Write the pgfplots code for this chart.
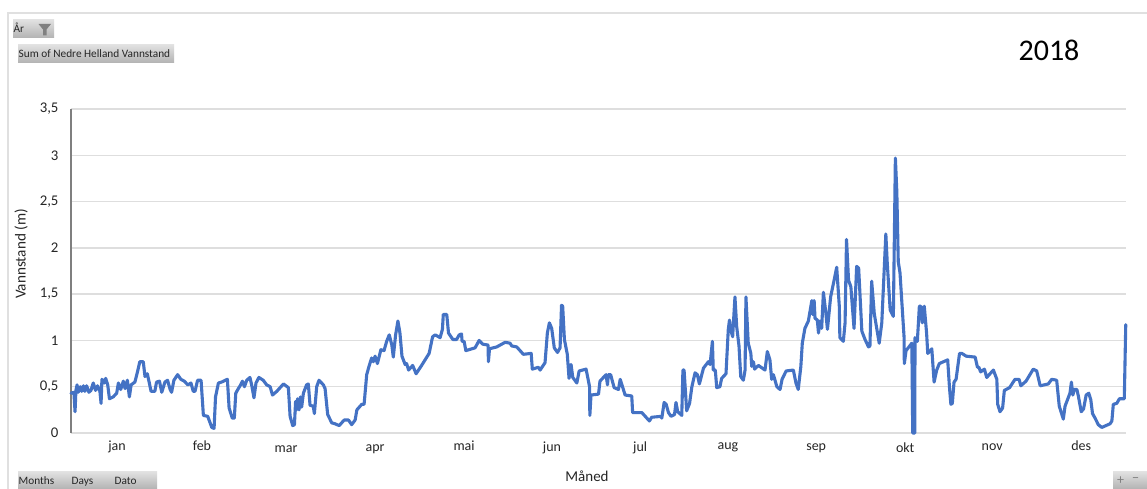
\documentclass[border=0pt]{standalone}
\usepackage{fontspec}
\setmainfont{Carlito}
\usepackage{pgfplots}
\pgfplotsset{compat=1.18}
\definecolor{serie}{HTML}{4472C4}
\definecolor{rutenett}{HTML}{DEDEDE}
\definecolor{akse}{HTML}{7F7F7F}
\newcommand{\knapp}[4]{% x0, y0 from the top, x1, y1 from the top
  \path[top color=black!12,bottom color=black!30] (#1pt,489pt-#2pt) rectangle (#3pt,489pt-#4pt);}
\newcommand{\knapptekst}[3]{\node[anchor=base west,inner sep=0pt,font=\fontsize{11.3}{12}\selectfont,text=black!85] at (#1,#2) {#3};}
\begin{document}
\begin{tikzpicture}[x=1pt,y=1pt]
\path[use as bounding box,fill=white] (0,0) rectangle (1147,489);
% outer frame of the chart area
\draw[black!12,line width=1.2pt] (8,0) -- (8,476) -- (1147,476);
\begin{axis}[
  at={(71pt,56pt)},anchor=south west,
  scale only axis,width=1055pt,height=324pt,
  xmin=0,xmax=365,ymin=0,ymax=3.5,
  clip=false,
  axis line style={draw=none},
  axis lines*=left,
  ymajorgrids,
  grid style={rutenett,line width=1.3pt},
  xtick={15.9,45.3,74.4,105.2,136,166.4,196.9,227.3,257.8,288.6,318.7,349.5},
  xticklabels={jan,feb,\smash{\raisebox{-2pt}{mar}},\smash{\raisebox{-1pt}{apr}},mai,\smash{\raisebox{-1pt}{jun}},\smash{\raisebox{-1pt}{jul}},\smash{\raisebox{1pt}{aug}},sep,\smash{\raisebox{-2pt}{okt}},nov,des},
  ytick={0,0.5,1,1.5,2,2.5,3,3.5},
  yticklabels={0,{0,5},1,{1,5},2,{2,5},3,{3,5}},
  major tick length=0pt,
  yticklabel style={xshift=-9pt,font=\fontsize{14.8}{16}\selectfont,text=black!85},
  xticklabel style={yshift=-4pt,font=\fontsize{14}{16}\selectfont,text=black!85,text height=10pt,text depth=3pt},
]
% vertical axis line
\draw[akse,line width=1.5pt] (axis cs:0,0) -- (axis cs:0,3.5);
\addplot[serie,line width=3.1pt,line join=round,line cap=round,no marks] table {
0 .43
1 .44
1.4 .23
1.7 .46
2.1 .52
2.5 .44
3.2 .50
3.7 .45
4.3 .51
4.8 .45
5.4 .51
6.2 .44
6.9 .46
7.7 .54
8.5 .46
9.2 .51
10 .45
10.4 .32
10.7 .58
11.5 .54
12 .59
12.7 .52
13.3 .37
14.6 .39
15.8 .43
16.4 .54
17.2 .47
18.1 .56
18.7 .48
19.5 .57
20.2 .39
20.8 .52
22.1 .55
23 .66
23.8 .77
25 .77
25.6 .61
26.4 .64
27.1 .54
27.7 .45
29 .45
29.6 .55
30.6 .56
31.4 .44
32.5 .55
33.4 .57
34.3 .47
34.8 .44
35.6 .57
36.9 .63
38 .58
39.2 .56
40.4 .52
41.5 .54
42.3 .45
42.9 .45
43.8 .57
45 .57
45.8 .19
47.3 .18
48.7 .06
49.5 .05
50 .39
51 .54
52.1 .55
54.1 .58
54.7 .27
55.8 .16
56.5 .16
57 .43
57.9 .48
58.5 .51
59.3 .56
60 .50
60.8 .57
61.9 .60
62.5 .52
63.3 .38
64 .54
65 .60
66.5 .57
67.7 .52
68.9 .50
69.7 .41
71.2 .45
73.5 .53
75.2 .49
75.8 .18
76.7 .08
77.3 .09
77.7 .34
78.1 .25
78.4 .37
78.9 .25
79.4 .39
79.8 .28
80.4 .43
81.5 .52
82.1 .53
82.7 .30
83.8 .29
84.2 .21
85 .50
85.8 .57
87.3 .52
87.9 .48
88.8 .20
90.2 .11
91.3 .10
92.8 .08
94.5 .14
96 .14
97.1 .09
98.3 .14
98.9 .25
100.6 .31
101.4 .31
102.3 .63
103.1 .72
104 .81
104.6 .77
105.2 .83
106 .75
107.2 .90
108.3 .89
109.2 .99
110.1 1.06
111 .95
111.5 .82
112.3 1.06
113.1 1.21
113.8 1.08
114.5 .83
115.6 .74
116.1 .75
116.8 .68
118.2 .73
119.4 .64
121.3 .73
123.1 .82
123.9 .86
125.1 1.04
126 1.06
127.7 1.03
128.5 1.12
128.8 1.28
130 1.28
130.6 1.08
132.1 1.01
133.4 1.01
134.3 1.06
135.1 1.07
135.3 .99
136 .99
136.6 .89
139.8 .92
141.2 1.0
142.4 .96
144.3 .95
144.4 .77
144.8 .91
147.3 .93
150.2 .98
151.9 .97
152.5 .94
154.2 .93
156.5 .85
159.2 .86
159.6 .69
161.7 .71
162.3 .68
164 .76
164.8 1.08
165.5 1.19
166.3 1.13
167.2 .92
168.3 .87
169.2 .92
169.7 1.38
170.1 1.37
170.7 1.01
171.7 .85
172.3 .59
173 .74
173.6 .60
175 .54
175.8 .67
178.2 .69
179.4 .50
179.5 .19
179.9 .41
182.5 .42
183 .56
185.1 .63
185.6 .52
185.9 .63
186.7 .63
187.9 .49
189.4 .47
190 .58
191.7 .41
194 .40
194.3 .22
197.5 .22
200.1 .13
200.9 .17
204.2 .18
204.4 .16
205.2 .33
205.9 .31
206.7 .22
207.6 .18
208.8 .20
209.3 .33
209.9 .23
211.3 .19
211.7 .68
212.1 .68
213 .24
214 .32
214.8 .50
215.9 .65
216.7 .63
217.4 .53
218.8 .70
220.5 .77
221.1 .74
221.9 .99
222.2 .68
222.9 .68
223.4 .49
224.5 .50
225.1 .59
226.6 .64
227.4 1.12
227.8 1.22
228.2 1.12
228.9 1.04
229.7 1.47
230.3 1.15
231.1 .94
231.7 .61
232.6 .57
233.2 .68
233.5 1.47
234.3 .97
235.2 .86
235.5 .72
236.1 .77
236.5 .69
237.8 .73
240.1 .68
240.9 .88
241.8 .79
242.4 .58
243 .63
244.2 .50
245.3 .47
246 .58
247.4 .67
249.9 .68
250.8 .54
251.6 .47
252.5 .72
253 .97
253.9 1.13
255.1 1.21
256.3 1.43
256.6 1.28
257.1 1.43
257.4 1.24
258.2 1.22
258.6 1.08
259.1 1.21
259.7 1.13
260.3 1.52
261.1 1.31
261.7 1.12
262.8 1.47
264 1.65
264.9 1.79
265.8 1.37
266 1.03
267.2 .99
267.8 1.19
268.3 2.09
269 1.65
269.8 1.58
270.9 1.13
271.8 1.80
272.5 1.78
273.6 1.10
274.7 1.01
275.9 .93
276.4 .94
277 1.64
277.9 1.29
279.6 .97
280.5 1.19
281.9 2.15
282.4 1.83
283.4 1.33
284.5 1.26
285.2 2.97
285.7 2.61
286.2 1.85
286.8 1.73
288.2 1.04
288.3 .75
288.9 .89
290.9 .97
291.2 0
291.9 0
292 1.03
292.8 .99
293.5 1.37
294 1.37
294.5 1.19
295.2 1.37
296 1.08
296.4 .86
297.1 .88
297.8 .91
298.6 .55
299.5 .68
300.4 .75
303.3 .79
303.9 .50
304.4 .31
304.9 .32
305.5 .55
306.2 .58
307.4 .86
308.2 .86
309.7 .83
312.8 .82
313.6 .71
314.1 .71
314.7 .66
316 .69
316.8 .60
319.1 .68
320.3 .58
320.6 .31
321.4 .23
322.3 .27
322.9 .46
324.7 .49
326.6 .58
328 .58
328.6 .51
330.4 .56
332.9 .69
334.1 .67
335.3 .51
338.1 .53
339.3 .58
341 .57
341.9 .29
343.3 .15
343.9 .29
345.6 .43
346.1 .55
346.6 .41
347.1 .47
348 .47
348.5 .40
349.5 .23
350.3 .26
351.2 .41
352.1 .43
352.8 .36
353.4 .21
354.3 .16
355.4 .09
356.6 .06
359.5 .10
360.1 .13
360.6 .31
361.8 .32
362.7 .37
364.4 .37
364.9 1.17
};
\end{axis}
% axis titles
\node[rotate=90,font=\fontsize{15.2}{17}\selectfont,text=black!85] at (21,235) {Vannstand (m)};
\node[font=\fontsize{15}{17}\selectfont,text=black!85] at (587,13) {Måned};
\node[font=\fontsize{30}{34}\selectfont] at (1049,439) {2018};
% field buttons
\knapp{13}{20}{54}{38}
\knapp{18}{45}{174}{63}
\knapp{18}{472}{157}{489}
\knapp{1113}{472}{1147}{489}
\knapptekst{13.5}{456}{År}
\fill[black!50] (38.5,465) -- (51,465) -- (46.5,459.5) -- (46.5,453.5) -- (43,453.5) -- (43,459.5) -- cycle;
\knapptekst{18.5}{431}{Sum of Nedre Helland Vannstand}
\knapptekst{18.5}{4.5}{Months}
\knapptekst{71.5}{4.5}{Days}
\knapptekst{114.5}{4.5}{Dato}
\node[font=\fontsize{14}{14}\selectfont,text=black!50] at (1120.5,8.5) {+};
\node[font=\fontsize{14}{14}\selectfont,text=black!50] at (1135.5,8.5) {−};
\end{tikzpicture}
\end{document}
